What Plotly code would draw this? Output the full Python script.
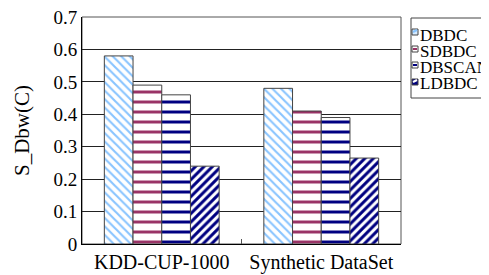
import plotly.graph_objects as go

categories = ["KDD-CUP-1000", "Synthetic DataSet"]
series_names = ["DBDC", "SDBDC", "DBSCAN", "LDBDC"]
dbdc = [0.58, 0.48]
sdbdc = [0.49, 0.41]
dbscan = [0.46, 0.39]
ldbdc = [0.24, 0.265]
y_ticks = [0, 0.1, 0.2, 0.3, 0.4, 0.5, 0.6, 0.7]
y_tick_labels = ["0", "0.1", "0.2", "0.3", "0.4", "0.5", "0.6", "0.7"]

values = [dbdc, sdbdc, dbscan, ldbdc]
colors = ["#88c4ff", "#993366", "#000080", "#000080"]
shapes = ["\\", "-", "-", "/"]
sizes = [6, 10, 10, 6]
solid = [0.35, 0.3, 0.3, 0.5]

FONT = "Liberation Serif"

# plot area in pixels (for placing the hand-built legend)
L, R, T, B = 74, 393, 9, 236
def px(x):
    return (x - L) / (R - L)
def py(y):
    return (B - y) / (B - T)

fig = go.Figure()
for name, vals, c, sh, sz, so in zip(series_names, values, colors, shapes, sizes, solid):
    fig.add_trace(go.Bar(
        name=name, x=categories, y=vals, showlegend=False,
        marker=dict(color="white",
                    line=dict(color="#444444", width=1),
                    pattern=dict(shape=sh, fgcolor=c, bgcolor="white",
                                 size=sz, solidity=so, fgopacity=1)),
    ))

fig.update_layout(
    width=489, height=275,
    margin=dict(l=L, r=489 - R, t=T, b=275 - B, autoexpand=False),
    paper_bgcolor="white", plot_bgcolor="white",
    barmode="group", bargap=0.28, bargroupgap=0,
    font=dict(family=FONT, size=16, color="black"),
    xaxis=dict(showline=True, linecolor="black", linewidth=1, mirror=False,
               ticks="inside", tickson="boundaries", ticklen=5, tickcolor="#555555",
               tickfont=dict(family=FONT, size=20), showgrid=False),
    yaxis=dict(range=[0, 0.7], tickvals=y_ticks, ticktext=y_tick_labels,
               showline=True, linecolor="black", linewidth=1,
               showgrid=True, gridcolor="#222222", gridwidth=1,
               ticks="", tickfont=dict(family=FONT, size=19),
               ticklabeloverflow="allow",
               title=dict(text="S_Dbw(C)", font=dict(family=FONT, size=21), standoff=18),
               zeroline=False),
)
# right and top frame
fig.add_shape(type="rect", xref="paper", yref="paper", x0=0, y0=0, x1=1, y1=1,
              line=dict(color="#555555", width=1), layer="below")

# legend box
fig.add_shape(type="rect", xref="paper", yref="paper",
              x0=px(403), x1=px(500), y0=py(90), y1=py(10),
              line=dict(color="#444444", width=1), fillcolor="white")
text_y = [27, 43, 59, 75]
sym_y = [21, 38, 54, 71]
sym_fill = ["#d8ecff", "white", "white", "#000080"]
sym_band = ["#88c4ff", "#993366", "#000080", "white"]
for name, ty, sy, f, band in zip(series_names, text_y, sym_y, sym_fill, sym_band):
    fig.add_shape(type="rect", xref="paper", yref="paper",
                  x0=px(404), x1=px(410), y0=py(sy + 6), y1=py(sy),
                  line=dict(color="#444444", width=1), fillcolor=f)
    fig.add_shape(type="line", xref="paper", yref="paper",
                  x0=px(405), x1=px(409), y0=py(sy + 3), y1=py(sy + 3) if name in ("SDBDC", "DBSCAN") else py(sy + 1),
                  line=dict(color=band, width=2))
    fig.add_annotation(text=name, xref="paper", yref="paper", x=px(411), y=py(ty),
                       xanchor="left", yanchor="middle", showarrow=False,
                       height=16, borderpad=0,
                       font=dict(family=FONT, size=17, color="black"))

fig.write_html("out.html")
